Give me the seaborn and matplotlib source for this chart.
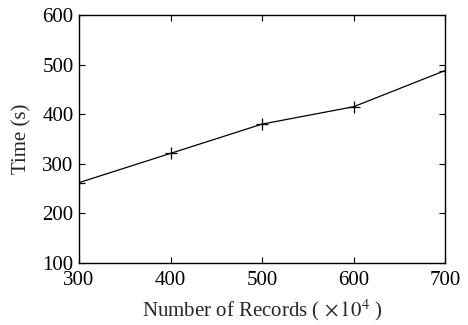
import numpy as np
import pandas as pd
import matplotlib
matplotlib.use('Agg')
import matplotlib.pyplot as plt
import seaborn as sns

# Данные
records = [300, 400, 500, 600, 700]
times = [262, 321, 380, 415, 488]
x_ticks = [300, 400, 500, 600, 700]
y_ticks = [100, 200, 300, 400, 500, 600]

sns.set_style('ticks')
plt.rcParams['font.family'] = ['Liberation Serif', 'DejaVu Serif']
plt.rcParams['mathtext.fontset'] = 'stix'

df = pd.DataFrame({'records': records, 'time': times})

fig = plt.figure(figsize=(4.68, 3.25), dpi=100)
ax = fig.add_axes([0.1688, 0.1908, 0.9509 - 0.1688, 0.9538 - 0.1908])

sns.lineplot(data=df, x='records', y='time', color='black', linewidth=0.9,
             marker='+', markersize=8, markeredgewidth=0.9,
             markeredgecolor='black', ax=ax)

ax.set_xlim(300, 700)
ax.set_ylim(100, 600)
ax.set_xticks(x_ticks)
ax.set_yticks(y_ticks)
ax.tick_params(direction='in', top=True, right=True, length=4, width=0.8,
               labelsize=15, colors='black')
ax.tick_params(axis='x', pad=6)
ax.tick_params(axis='y', pad=4)
for s in ax.spines.values():
    s.set_linewidth(1.0)
    s.set_color('black')

ax.set_xlabel(r'Number of Records ( $\times\,10^4$ )', fontsize=15, labelpad=5)
ax.set_ylabel('Time (s)', fontsize=15, labelpad=8)

fig.savefig('out.png', dpi=100)
